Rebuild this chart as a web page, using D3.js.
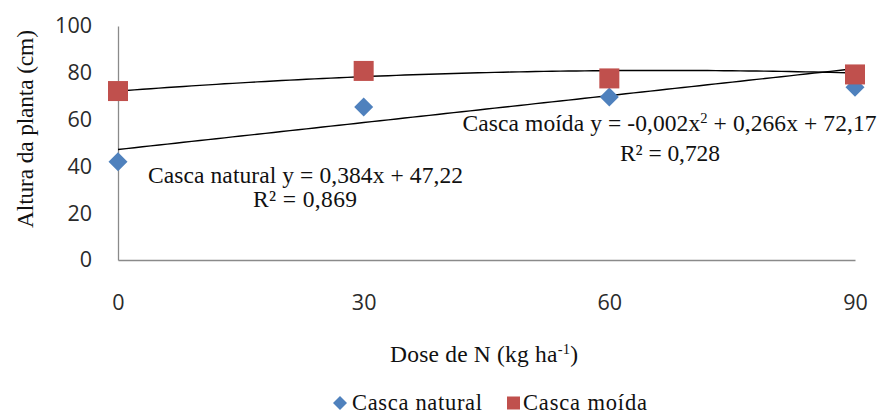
<!DOCTYPE html>
<html>
<head>
<meta charset="utf-8">
<script src="https://cdn.jsdelivr.net/npm/d3@7"></script>
<style>
  html, body { margin: 0; padding: 0; background: #fff; }
  svg { display: block; }
</style>
</head>
<body>
<svg id="chart" width="882" height="414"></svg>
<script>
// ---- data ----
const doses = [0, 30, 60, 90];
const xTicks = [0, 30, 60, 90];
const yTicks = [0, 20, 40, 60, 80, 100];
const cascaNatural = [42, 65.4, 69.7, 73.8];
const cascaMoida = [72.2, 80.8, 77.6, 79.3];
const seriesNames = ["Casca natural", "Casca moída"];
// trend line coefficients [c2, c1, c0]
const trendNatural = [0, 0.384, 47.22];
const trendMoida = [-0.002, 0.266, 72.17];

const svg = d3.select("#chart");
const serif = "'Liberation Serif', 'Times New Roman', serif";
const sans = "'Open Sans', 'Liberation Sans', sans-serif";
const blue = "#4F81BD", red = "#C0504D", axisGray = "#8a8a8a";

const x = d3.scaleLinear().domain([0, 90]).range([118, 855]);
const y = d3.scaleLinear().domain([0, 100]).range([260, 26]);

// axes
const yAxis = svg.append("g").attr("transform", `translate(${x(0)},0)`)
  .call(d3.axisLeft(y).tickValues(yTicks).tickSize(0).tickPadding(26).tickFormat(d3.format("d")));
const xAxis = svg.append("g").attr("transform", `translate(0,${y(0)})`)
  .call(d3.axisBottom(x).tickValues(xTicks).tickSize(0).tickPadding(35).tickFormat(d3.format("d")));
[yAxis, xAxis].forEach(g => {
  g.select(".domain").attr("stroke", axisGray).attr("stroke-width", 1.3);
  g.selectAll("text").attr("font-family", sans).attr("font-size", 21.5).attr("fill", "#2a2a2a");
});

// trend lines
function poly(c) { return v => c[0] * v * v + c[1] * v + c[2]; }
const line = d3.line().x(d => x(d[0])).y(d => y(d[1]));
[trendNatural, trendMoida].forEach(c => {
  const f = poly(c);
  const pts = d3.range(0, 90.01, 1).map(v => [v, f(v)]);
  svg.append("path").attr("d", line(pts)).attr("fill", "none")
    .attr("stroke", "#000").attr("stroke-width", 1.4);
});

// markers
function diamond(r) { return `M0,${-r}L${r},0L0,${r}L${-r},0Z`; }
svg.append("g").selectAll("path").data(doses).join("path")
  .attr("transform", (d, i) => `translate(${x(d)},${y(cascaNatural[i])})`)
  .attr("d", diamond(9.5)).attr("fill", blue);
svg.append("g").selectAll("rect").data(doses).join("rect")
  .attr("x", d => x(d) - 10).attr("y", (d, i) => y(cascaMoida[i]) - 10)
  .attr("width", 20).attr("height", 20).attr("fill", red);

// text helper
function txt(xp, yp, anchor, size, len, parts, rotate) {
  const t = svg.append("text").attr("x", xp).attr("y", yp)
    .attr("text-anchor", anchor).attr("font-family", serif)
    .attr("font-size", size).attr("fill", "#111");
  if (len) t.attr("textLength", len);
  if (rotate) t.attr("transform", `rotate(-90,${xp},${yp})`);
  parts.forEach(p => {
    const s = t.append("tspan").text(p.t);
    if (p.sup) s.attr("baseline-shift", "super").attr("font-size", size * 0.62);
  });
  return t;
}

const fs = 23.5;
// equations
txt(305.5, 183, "middle", fs, 315, [{t: "Casca natural y = 0,384x + 47,22"}]);
txt(305, 207, "middle", fs, 104, [{t: "R² = 0,869"}]);
txt(669.5, 131, "middle", fs, 414, [{t: "Casca moída y = -0,002x"}, {t: "2", sup: true}, {t: " + 0,266x + 72,17"}]);
txt(670, 161, "middle", fs, 100, [{t: "R² = 0,728"}]);

// axis titles
txt(33, 129, "middle", fs, 198, [{t: "Altura da planta (cm)"}], true);
txt(484, 362, "middle", fs, 188, [{t: "Dose de N (kg ha"}, {t: "-1", sup: true}, {t: ")"}]);

// legend
svg.append("path").attr("transform", "translate(340,403)").attr("d", diamond(7)).attr("fill", blue);
svg.append("rect").attr("x", 507).attr("y", 396.5).attr("width", 13).attr("height", 13).attr("fill", red);
txt(352, 409.5, "start", 22.5, 130, [{t: seriesNames[0]}]);
txt(523, 409.5, "start", 22.5, 124, [{t: seriesNames[1]}]);
</script>
</body>
</html>
